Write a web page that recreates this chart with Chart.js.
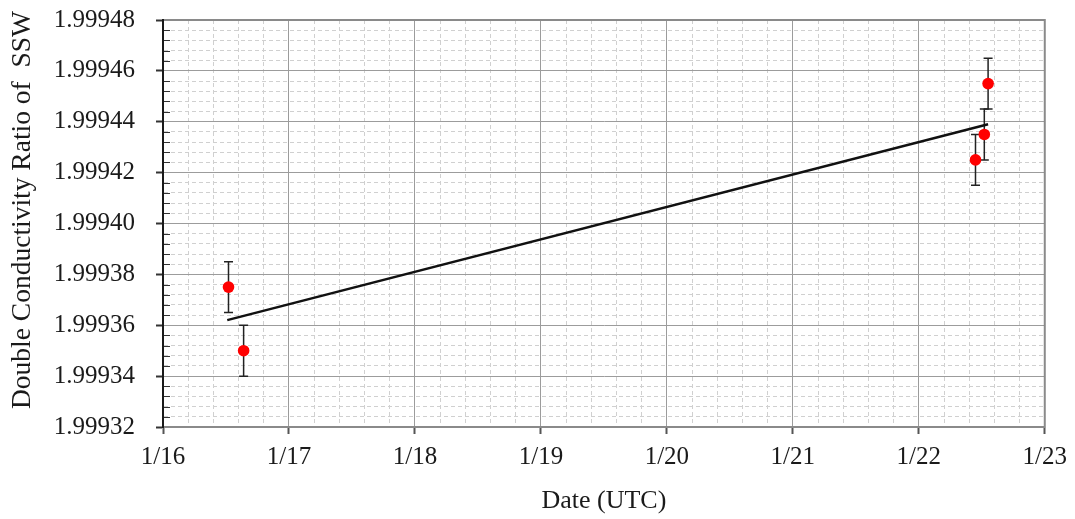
<!DOCTYPE html>
<html>
<head>
<meta charset="utf-8">
<script src="https://cdn.jsdelivr.net/npm/chart.js@4/dist/chart.umd.min.js"></script>
<style>
  html, body { margin: 0; padding: 0; background: #fff; }
  #wrap { width: 1075px; height: 519px; position: relative; }
</style>
</head>
<body>
<div id="wrap"><canvas id="c" width="1075" height="519"></canvas></div>
<script>
// ---- data ----
const dayLabels = ['1/16', '1/17', '1/18', '1/19', '1/20', '1/21', '1/22', '1/23'];
const obsX = [0.52, 0.64, 6.45, 6.52, 6.55];          // days after 1/16 00:00 UTC
const obsY = [1.999375, 1.99935, 1.999425, 1.999435, 1.999455];
const obsErr = [0.00001, 0.00001, 0.00001, 0.00001, 0.00001];
const fitX = [0.51, 6.55];
const fitY = [1.999362, 1.999439];
const yMin = 1.99932, yMax = 1.99948, yMinorStep = 0.000004;
const xMinorStep = 0.2;
const yTitle = 'Double Conductivity Ratio of  SSW';
const xTitle = 'Date (UTC)';

const serif = "'Liberation Serif', 'Times New Roman', serif";

const errorBars = {
  id: 'errorBars',
  beforeDatasetsDraw(chart) {
    const ctx = chart.ctx, xs = chart.scales.x, ys = chart.scales.y;
    ctx.save();
    ctx.strokeStyle = '#222';
    ctx.lineWidth = 1.5;
    for (let i = 0; i < obsX.length; i++) {
      const px = xs.getPixelForValue(obsX[i]);
      const top = ys.getPixelForValue(obsY[i] + obsErr[i]);
      const bot = ys.getPixelForValue(obsY[i] - obsErr[i]);
      ctx.beginPath();
      ctx.moveTo(px, top); ctx.lineTo(px, bot);
      ctx.moveTo(px - 4.5, top); ctx.lineTo(px + 4.5, top);
      ctx.moveTo(px - 4.5, bot); ctx.lineTo(px + 4.5, bot);
      ctx.stroke();
    }
    ctx.restore();
  },
  afterDraw(chart) {
    const ctx = chart.ctx, a = chart.chartArea, ys = chart.scales.y;
    ctx.save();
    // inner minor ticks on the left axis
    ctx.strokeStyle = '#333';
    ctx.lineWidth = 1;
    ys.ticks.forEach((t, i) => {
      if (i % 5 !== 0) {
        const py = Math.round(ys.getPixelForValue(t.value)) + 0.5;
        ctx.beginPath(); ctx.moveTo(a.left, py); ctx.lineTo(a.left + 7, py); ctx.stroke();
      }
    });
    // frame
    ctx.strokeStyle = '#8a8a8a';
    ctx.lineWidth = 2;
    ctx.beginPath();
    ctx.moveTo(a.left, a.top); ctx.lineTo(a.right, a.top); ctx.lineTo(a.right, a.bottom); ctx.lineTo(a.left, a.bottom);
    ctx.stroke();
    ctx.strokeStyle = '#1a1a1a';
    ctx.beginPath(); ctx.moveTo(a.left, a.top - 1); ctx.lineTo(a.left, a.bottom + 1); ctx.stroke();
    // y axis title
    ctx.translate(23, 210);
    ctx.rotate(-Math.PI / 2);
    ctx.fillStyle = '#1a1a1a';
    ctx.font = "27.5px " + serif;
    ctx.textAlign = 'center';
    ctx.textBaseline = 'middle';
    ctx.fillText(yTitle, 0, 0);
    ctx.restore();
  }
};

const isMajor = (c) => c.index === undefined || c.index % 5 === 0;

new Chart(document.getElementById('c'), {
  type: 'scatter',
  data: {
    datasets: [
      {
        type: 'line',
        data: fitX.map((x, i) => ({ x, y: fitY[i] })),
        borderColor: '#111',
        borderWidth: 2.5,
        pointRadius: 0,
        fill: false,
        order: 2
      },
      {
        data: obsX.map((x, i) => ({ x, y: obsY[i] })),
        backgroundColor: '#ff0000',
        borderColor: '#ff0000',
        borderWidth: 0,
        pointRadius: 5.8,
        order: 1
      }
    ]
  },
  options: {
    responsive: false,
    animation: false,
    devicePixelRatio: 1,
    layout: { padding: { top: 20, right: 30, bottom: 0, left: 0 } },
    plugins: { legend: { display: false }, tooltip: { enabled: false } },
    scales: {
      x: {
        type: 'linear',
        min: 0, max: 7,
        afterFit(s) { s.height = 92; },
        afterBuildTicks(s) {
          const t = [];
          for (let i = 0; i <= 35; i++) t.push({ value: +(i * xMinorStep).toFixed(4) });
          s.ticks = t;
        },
        ticks: {
          autoSkip: false, maxRotation: 0,
          padding: 8,
          color: '#1a1a1a',
          font: { family: serif, size: 25 },
          callback: (v, i) => (i % 5 === 0 ? dayLabels[i / 5] : '')
        },
        grid: {
          color: (c) => isMajor(c) ? '#9c9c9c' : '#d0d0d0',
          lineWidth: 1,
          tickLength: 7,
          tickColor: (c) => isMajor(c) ? '#555' : 'rgba(0,0,0,0)',
          tickWidth: 2
        },
        border: { color: '#8a8a8a', width: 2, dash: (c) => isMajor(c) ? [] : [4, 3] },
        title: {
          display: true, text: xTitle, color: '#1a1a1a',
          font: { family: serif, size: 26 },
          padding: { top: 0, bottom: 2 }
        }
      },
      y: {
        min: yMin, max: yMax,
        afterFit(s) { s.width = 163; s.paddingTop = 0; s.paddingBottom = 0; },
        afterBuildTicks(s) {
          const t = [];
          for (let i = 0; i <= 40; i++) t.push({ value: +(yMin + i * yMinorStep).toFixed(7) });
          s.ticks = t;
        },
        ticks: {
          autoSkip: false,
          padding: 21,
          color: '#1a1a1a',
          font: { family: serif, size: 25 },
          callback: (v, i) => (i % 5 === 0 ? v.toFixed(5) : '')
        },
        grid: {
          color: (c) => isMajor(c) ? '#9c9c9c' : '#d0d0d0',
          lineWidth: 1,
          tickLength: 7,
          tickColor: (c) => isMajor(c) ? '#333' : 'rgba(0,0,0,0)',
          tickWidth: 2
        },
        border: { color: '#1a1a1a', width: 2, dash: (c) => isMajor(c) ? [] : [4, 3] },
        title: { display: false }
      }
    }
  },
  plugins: [errorBars]
});
</script>
</body>
</html>
